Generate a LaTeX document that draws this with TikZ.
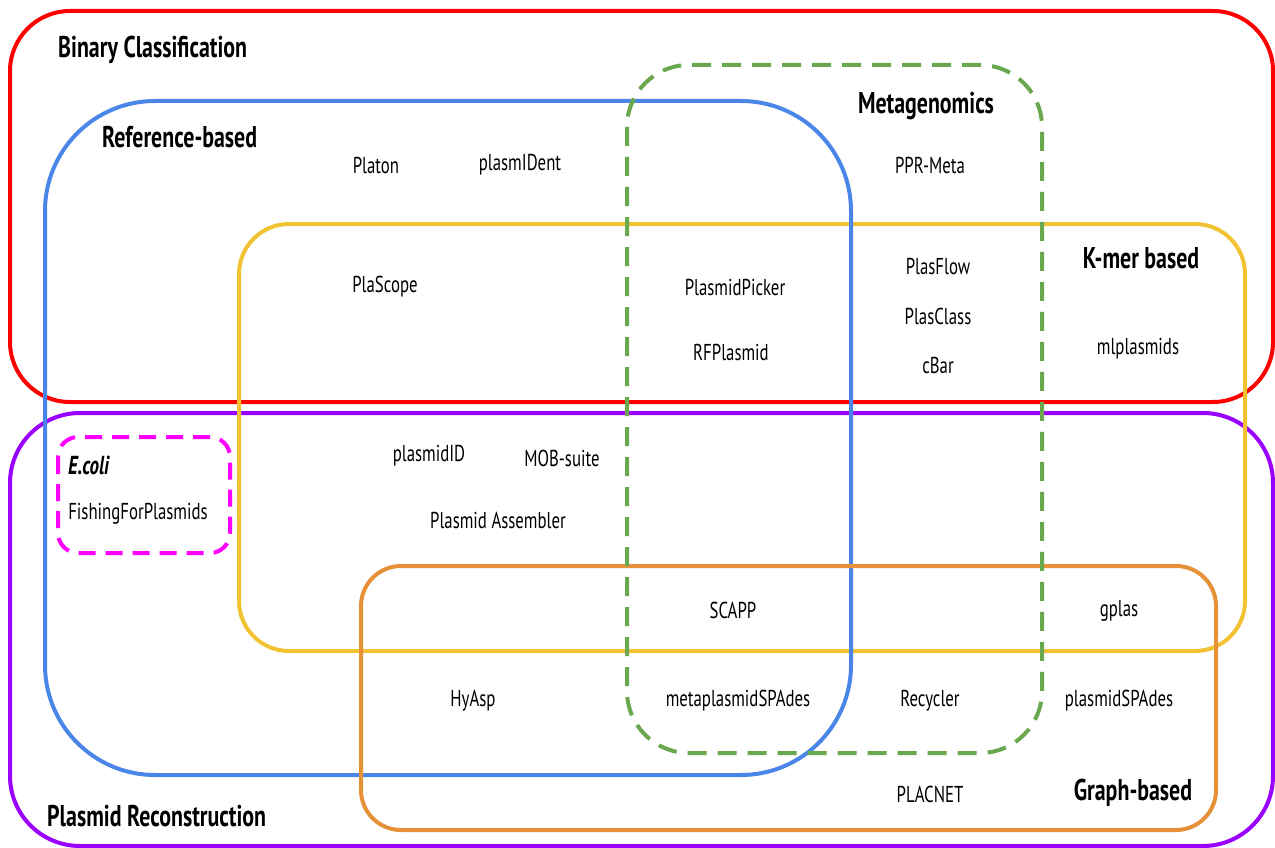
\documentclass[tikz,border=0pt]{standalone}
\usepackage{fontspec}
\setmainfont{PT Sans}[FakeStretch=0.73]
\newfontfamily\headfont{PT Sans}[FakeStretch=0.73]
\begin{document}
\begin{tikzpicture}[x=1pt,y=-1pt,
  setbox/.style={line width=4pt, rounded corners=#1},
  setdash/.style={line width=4pt, rounded corners=#1, dash pattern=on 19pt off 11pt},
  lbl/.style={font=\fontsize{23}{26}\selectfont, inner sep=0pt},
  head/.style={font=\headfont\fontsize{30}{33}\selectfont\bfseries, inner sep=0pt}]
\definecolor{cred}{HTML}{FF0000}
\definecolor{cblue}{HTML}{4A86E8}
\definecolor{cgreen}{HTML}{6AA84F}
\definecolor{cyellow}{HTML}{F1C232}
\definecolor{cpurple}{HTML}{9900FF}
\definecolor{cmag}{HTML}{FF00FF}
\definecolor{corange}{HTML}{E69138}
\useasboundingbox (0,0) rectangle (1275,848);
% sets
\draw[setbox=60pt, cred] (10,11) rectangle (1273,402);
\draw[setbox=70pt, cpurple] (10,413) rectangle (1273,846);
\draw[setbox=50pt, cyellow] (239,224) rectangle (1245,651);
\draw[setbox=110pt, cblue] (45,101) rectangle (851,775);
\draw[setbox=40pt, corange] (361,566) rectangle (1216,830);
\draw[setdash=62pt, cgreen] (627,65) rectangle (1042,753);
\draw[setdash=20pt, cmag, dash pattern=on 17pt off 10pt] (58,437) rectangle (230,553);
% headings
\node[head, anchor=west] (hbin) at (58,50) {Binary Classification};
\node[head, anchor=west] (href) at (102,137) {Reference-based};
\node[head] (hmeta) at (926,106) {Metagenomics};
\node[head] (hkmer) at (1141,258) {K-mer based};
\node[head] (hgraph) at (1133,793) {Graph-based};
\node[head, anchor=west] (hrec) at (47,816) {Plasmid Reconstruction};
\node[head, anchor=west, font=\headfont\fontsize{26}{29}\selectfont\bfseries\itshape] (hecoli) at (68,465) {E.coli};
% tools
\node[lbl] (fish) at (138,514) {FishingForPlasmids};
\node[lbl] (platon) at (376,165) {Platon};
\node[lbl] (plasmident) at (520,165) {plasmIDent};
\node[lbl] (ppr) at (930,165) {PPR-Meta};
\node[lbl] (plascope) at (385,287) {PlaScope};
\node[lbl] (picker) at (735,287) {PlasmidPicker};
\node[lbl] (rfp) at (731,352) {RFPlasmid};
\node[lbl] (plasflow) at (938,266) {PlasFlow};
\node[lbl] (plasclass) at (938,316) {PlasClass};
\node[lbl] (cbar) at (938,365) {cBar};
\node[lbl] (mlp) at (1138,349) {mlplasmids};
\node[lbl] (pid) at (429,456) {plasmidID};
\node[lbl] (mob) at (562,458) {MOB-suite};
\node[lbl] (passm) at (498,520) {Plasmid Assembler};
\node[lbl] (scapp) at (733,610) {SCAPP};
\node[lbl] (gplas) at (1119,611) {gplas};
\node[lbl] (hyasp) at (473,701) {HyAsp};
\node[lbl] (mps) at (738,701) {metaplasmidSPAdes};
\node[lbl] (recyc) at (930,701) {Recycler};
\node[lbl] (pspades) at (1119,701) {plasmidSPAdes};
\node[lbl] (placnet) at (930,794) {PLACNET};
\end{tikzpicture}
\end{document}
